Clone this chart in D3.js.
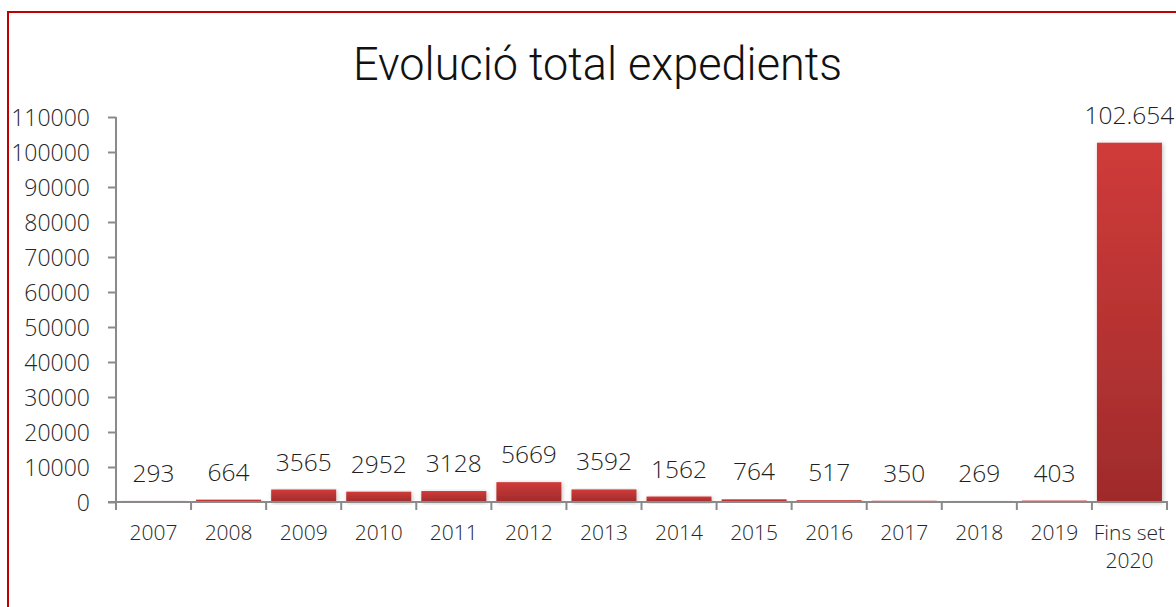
<!DOCTYPE html>
<html>
<head>
<meta charset="utf-8">
<script src="https://cdn.jsdelivr.net/npm/d3@7"></script>
<style>
  body { margin: 0; background: #fff; }
  text { font-family: "Open Sans", Lato, sans-serif; font-weight: 300; }
</style>
</head>
<body>
<svg id="chart"></svg>
<script>
const categories = ["2007", "2008", "2009", "2010", "2011", "2012", "2013", "2014", "2015", "2016", "2017", "2018", "2019", "Fins set 2020"];
const values = [293, 664, 3565, 2952, 3128, 5669, 3592, 1562, 764, 517, 350, 269, 403, 102654];
const valueLabels = ["293", "664", "3565", "2952", "3128", "5669", "3592", "1562", "764", "517", "350", "269", "403", "102.654"];
const yTicks = [0, 10000, 20000, 30000, 40000, 50000, 60000, 70000, 80000, 90000, 100000, 110000];

const width = 1176;
const height = 607;
const svg = d3.select("#chart").attr("width", width).attr("height", height);

// marc vermell
svg.append("rect")
    .attr("x", 8).attr("y", 12)
    .attr("width", width + 20).attr("height", height + 20)
    .attr("fill", "none")
    .attr("stroke", "#c00000")
    .attr("stroke-width", 2);

// titol
svg.append("text")
    .attr("x", 353)
    .attr("y", 80)
    .attr("textLength", 489)
    .attr("lengthAdjust", "spacingAndGlyphs")
    .style("font-family", "Roboto, 'Open Sans', sans-serif")
    .style("font-weight", 300)
    .style("font-size", "47px")
    .attr("fill", "#111")
    .text("Evolució total expedients");

const xScale = d3.scaleBand().domain(categories).range([116, 1167]).paddingInner(0.134).paddingOuter(0.067);
const yScale = d3.scaleLinear().domain([0, 110000]).range([502, 117]);

// gradient i ombra
const defs = svg.append("defs");
const grad = defs.append("linearGradient").attr("id", "barGrad").attr("x1", 0).attr("y1", 0).attr("x2", 0).attr("y2", 1);
grad.append("stop").attr("offset", "0%").attr("stop-color", "#d03b3a");
grad.append("stop").attr("offset", "100%").attr("stop-color", "#9f2b2b");
defs.append("filter").attr("id", "shadow").attr("x", "-10%").attr("y", "-10%").attr("width", "130%").attr("height", "130%")
    .append("feDropShadow").attr("dx", 1).attr("dy", 1).attr("stdDeviation", 2).attr("flood-color", "#000").attr("flood-opacity", 0.25);

svg.selectAll("rect.bar")
    .data(values)
    .enter()
    .append("rect")
    .attr("class", "bar")
    .attr("x", (d, i) => xScale(categories[i]))
    .attr("y", d => yScale(d))
    .attr("width", xScale.bandwidth())
    .attr("height", d => yScale(0) - yScale(d))
    .attr("fill", "url(#barGrad)")
    .attr("filter", "url(#shadow)");

// etiquetes de valor
svg.selectAll("text.val")
    .data(values)
    .enter()
    .append("text")
    .attr("class", "val")
    .attr("x", (d, i) => xScale(categories[i]) + xScale.bandwidth() / 2)
    .attr("y", d => yScale(d) - 19)
    .attr("text-anchor", "middle")
    .style("font-size", "24.5px")
    .attr("fill", "#1f1f1f")
    .text((d, i) => valueLabels[i]);

// eix y
const yAxis = svg.append("g")
    .attr("transform", "translate(116,0)")
    .call(d3.axisLeft(yScale).tickValues(yTicks).tickFormat(d3.format("d")).tickSize(8).tickPadding(18));
yAxis.select(".domain").attr("d", "M0," + yScale(110000) + "V" + yScale(0));
yAxis.selectAll("line, path").attr("stroke", "#8a8a8a").attr("stroke-width", 2);
yAxis.selectAll("text").style("font-size", "23px").attr("fill", "#262626").attr("dy", "0.35em");

// eix x
const xAxis = svg.append("g").attr("transform", "translate(0," + yScale(0) + ")");
xAxis.append("line").attr("x1", 108).attr("x2", 1168).attr("stroke", "#8a8a8a").attr("stroke-width", 2);
const edges = categories.map(c => xScale(c) - xScale.step() * xScale.paddingInner() / 2).concat([1167]);
xAxis.selectAll("line.tick")
    .data(edges)
    .enter()
    .append("line")
    .attr("class", "tick")
    .attr("x1", d => d).attr("x2", d => d)
    .attr("y1", 0).attr("y2", 8)
    .attr("stroke", "#8a8a8a").attr("stroke-width", 2);
const xLabels = xAxis.selectAll("text")
    .data(categories)
    .enter()
    .append("text")
    .attr("x", d => xScale(d) + xScale.bandwidth() / 2)
    .attr("y", 38)
    .attr("text-anchor", "middle")
    .style("font-size", "21px")
    .attr("fill", "#262626");
xLabels.each(function (d) {
    const parts = d === "Fins set 2020" ? ["Fins set", "2020"] : [d];
    const t = d3.select(this);
    parts.forEach((p, i) => {
        t.append("tspan").attr("x", xScale(d) + xScale.bandwidth() / 2).attr("dy", i === 0 ? 0 : 28).text(p);
    });
});
</script>
</body>
</html>
